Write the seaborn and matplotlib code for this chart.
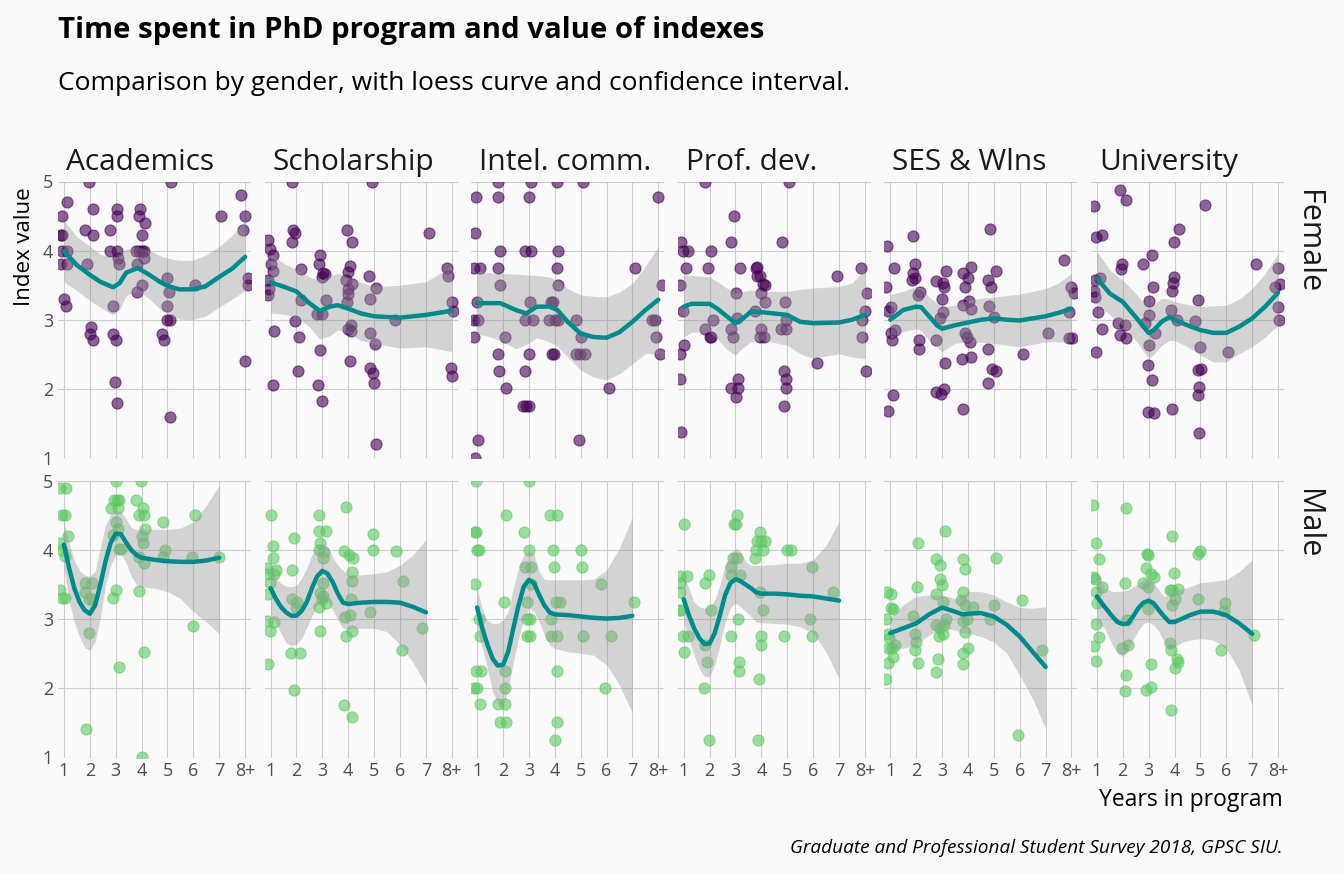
import numpy as np
import pandas as pd
import matplotlib
matplotlib.use("Agg")
import matplotlib.pyplot as plt
import seaborn as sns

# ====================================
# DATA
# ====================================
index_names = ["Academics", "Scholarship", "Intel. comm.", "Prof. dev.", "SES & Wlns", "University"]
genders = ["Female", "Male"]
year_ticks = [1, 2, 3, 4, 5, 6, 7, 8]
year_labels = ["1", "2", "3", "4", "5", "6", "7", "8+"]

# jittered survey answers: (years in program, index value)
acad_f = [(1.97, 5.0), (1.10, 4.71), (0.92, 4.5), (0.92, 4.22), (0.88, 4.22), (0.92, 4.0), (1.10, 4.0),
          (0.88, 3.8), (1.10, 3.8), (1.00, 3.3), (1.08, 3.2), (1.80, 4.3), (2.12, 4.22), (2.13, 4.6),
          (1.90, 3.8), (2.06, 2.9), (2.00, 2.8), (2.12, 2.7), (2.78, 4.3), (2.78, 4.0), (3.06, 4.0),
          (3.06, 4.6), (3.06, 4.5), (3.08, 3.9), (3.14, 3.8), (2.90, 3.2), (2.90, 2.8), (3.00, 2.7),
          (2.97, 2.1), (3.05, 1.8), (3.93, 4.6), (3.91, 4.5), (4.14, 4.4), (4.00, 4.22), (3.78, 4.0),
          (4.00, 4.0), (4.11, 4.0), (3.90, 4.0), (4.11, 3.9), (3.83, 3.8), (4.03, 3.5), (3.83, 3.4),
          (5.14, 5.0), (4.98, 3.6), (5.06, 3.4), (4.98, 3.2), (4.98, 3.0), (5.08, 3.0), (4.78, 2.8),
          (4.86, 2.7), (5.08, 1.6), (6.06, 3.5), (7.08, 4.5), (7.85, 4.8), (8.00, 4.5), (7.90, 4.3),
          (8.10, 3.6), (8.10, 3.5), (8.00, 2.4)]
schol_f = [(1.84, 5.0), (4.91, 5.0), (0.92, 4.16), (0.97, 4.03), (1.10, 3.94), (1.03, 3.81), (1.08, 3.71),
           (0.92, 3.57), (0.95, 3.45), (0.90, 3.36), (1.15, 2.84), (1.08, 2.05), (1.86, 4.30), (1.94, 4.26),
           (1.84, 4.13), (2.17, 3.74), (2.17, 3.28), (1.94, 2.98), (2.09, 2.75), (2.05, 2.26), (2.93, 3.94),
           (2.86, 3.81), (3.03, 3.68), (3.11, 3.66), (3.00, 3.62), (3.16, 3.28), (2.78, 3.08), (3.00, 3.09),
           (2.93, 2.56), (2.83, 2.05), (3.00, 1.83), (3.95, 4.30), (4.15, 4.13), (4.08, 3.78), (4.00, 3.69),
           (3.92, 3.57), (4.13, 3.51), (4.00, 3.45), (4.00, 3.37), (3.95, 3.25), (4.10, 2.92), (4.00, 2.87),
           (4.10, 2.84), (4.08, 2.41), (4.79, 3.64), (5.07, 3.46), (4.84, 3.30), (4.84, 2.81), (5.04, 2.65),
           (4.86, 2.30), (4.94, 2.23), (4.99, 2.09), (5.09, 1.20), (5.80, 3.00), (7.12, 4.26), (7.81, 3.75),
           (7.86, 3.63), (8.01, 3.26), (8.06, 3.12), (7.96, 2.30), (8.01, 2.18)]
intel_f = [(1.82, 5.0), (3.09, 5.0), (4.09, 5.0), (5.09, 5.0), (0.95, 4.77), (1.82, 4.77), (3.02, 4.77),
           (8.00, 4.77), (0.90, 4.26), (1.87, 4.0), (2.84, 4.0), (3.09, 4.0), (4.14, 4.0), (0.87, 3.75),
           (1.10, 3.75), (1.82, 3.75), (4.09, 3.75), (7.10, 3.75), (1.87, 3.5), (4.14, 3.5), (8.13, 3.5),
           (1.00, 3.25), (3.04, 3.25), (3.84, 3.25), (3.94, 3.25), (0.87, 3.0), (1.05, 3.0), (2.86, 3.0),
           (3.17, 3.0), (3.76, 3.0), (3.99, 3.0), (4.12, 3.0), (4.83, 3.0), (7.77, 3.0), (7.87, 3.0),
           (0.87, 2.75), (2.07, 2.75), (5.01, 2.75), (7.92, 2.75), (1.82, 2.5), (2.99, 2.5), (3.91, 2.5),
           (3.96, 2.5), (4.81, 2.5), (4.96, 2.5), (5.16, 2.5), (8.05, 2.5), (1.84, 2.26), (2.86, 2.26),
           (2.10, 2.01), (6.11, 2.01), (2.79, 1.75), (2.89, 1.75), (2.99, 1.75), (1.03, 1.26), (4.93, 1.26),
           (0.90, 1.0)]
prof_f = [(1.84, 5.0), (5.05, 5.0), (2.96, 4.5), (0.90, 4.13), (0.97, 4.0), (1.15, 4.0), (2.04, 4.0),
          (2.81, 4.13), (4.79, 4.13), (1.08, 3.75), (1.94, 3.75), (3.16, 3.75), (3.80, 3.75), (3.82, 3.76),
          (3.85, 3.64), (3.95, 3.63), (4.05, 3.52), (4.13, 3.5), (6.93, 3.64), (7.84, 3.75), (0.87, 3.5),
          (8.07, 3.38), (3.01, 3.38), (4.00, 3.38), (4.13, 3.25), (4.92, 3.25), (0.97, 3.12), (3.77, 3.12),
          (8.00, 3.12), (2.15, 3.0), (3.06, 3.03), (4.94, 3.0), (7.90, 3.0), (1.81, 2.87), (2.81, 2.87),
          (4.00, 2.87), (4.77, 2.87), (4.94, 2.87), (2.04, 2.75), (2.03, 2.75), (2.91, 2.75), (3.93, 2.75),
          (4.10, 2.75), (7.90, 2.75), (1.00, 2.63), (0.87, 2.51), (6.14, 2.38), (4.89, 2.26), (4.94, 2.14),
          (4.97, 2.01), (4.89, 1.75), (8.05, 2.26), (3.11, 2.14), (2.83, 2.01), (3.09, 2.01), (3.01, 1.88),
          (0.87, 2.14), (0.90, 1.37)]
ses_f = [(4.87, 4.31), (1.89, 4.21), (0.87, 4.06), (1.13, 3.75), (1.97, 3.81), (1.89, 3.68), (1.84, 3.57),
         (1.94, 3.61), (0.82, 3.48), (7.72, 3.86), (3.14, 3.70), (2.76, 3.56), (3.04, 3.53), (3.09, 3.48),
         (3.82, 3.68), (4.10, 3.76), (4.00, 3.61), (3.88, 3.48), (4.79, 3.58), (5.10, 3.70), (4.89, 3.48),
         (8.00, 3.48), (8.10, 3.38), (2.07, 3.36), (2.15, 3.40), (3.01, 3.30), (4.05, 3.27), (3.80, 3.21),
         (4.13, 3.16), (4.82, 3.20), (1.03, 3.19), (0.92, 3.13), (3.04, 3.11), (2.91, 3.03), (5.02, 3.04),
         (7.90, 3.11), (1.03, 2.81), (1.18, 2.85), (1.05, 2.70), (2.12, 2.70), (2.12, 2.58), (2.78, 2.70),
         (3.88, 2.81), (3.98, 2.75), (4.08, 2.68), (7.08, 2.81), (7.92, 2.74), (8.02, 2.74), (4.79, 2.58),
         (4.10, 2.46), (3.77, 2.43), (3.11, 2.38), (6.11, 2.51), (4.92, 2.29), (5.10, 2.26), (4.77, 2.09),
         (2.78, 1.96), (2.96, 1.93), (3.06, 2.00), (1.10, 1.91), (0.90, 1.68), (3.82, 1.71)]
univ_f = [(1.89, 4.88), (2.14, 4.73), (5.17, 4.66), (0.90, 4.64), (0.97, 4.19), (1.18, 4.22), (4.18, 4.31),
          (3.97, 4.12), (3.13, 3.93), (2.80, 3.80), (1.97, 3.80), (1.94, 3.74), (7.15, 3.80), (7.99, 3.75),
          (0.92, 3.57), (1.13, 3.61), (3.97, 3.62), (3.95, 3.53), (3.90, 3.41), (3.16, 3.47), (0.90, 3.42),
          (0.92, 3.33), (8.09, 3.52), (7.89, 3.48), (3.01, 3.27), (4.89, 3.28), (1.03, 3.11), (8.00, 3.18),
          (8.03, 2.99), (3.03, 3.07), (3.85, 3.14), (4.10, 3.00), (1.81, 2.95), (2.07, 2.92), (2.86, 2.96),
          (4.81, 2.98), (1.20, 2.86), (1.89, 2.78), (2.14, 2.73), (3.24, 2.81), (3.03, 2.63), (4.99, 2.60),
          (6.08, 2.54), (0.97, 2.54), (2.98, 2.34), (3.13, 2.13), (4.91, 2.28), (5.02, 2.29), (4.94, 2.03),
          (4.91, 1.91), (2.96, 1.67), (3.19, 1.65), (3.90, 1.71), (4.96, 1.36)]

acad_m = [(0.85, 4.9), (1.08, 4.9), (0.92, 4.51), (1.03, 4.51), (1.15, 4.21), (0.85, 4.11), (0.92, 4.0),
          (1.03, 3.92), (0.85, 3.42), (0.92, 3.31), (1.03, 3.31), (1.82, 3.52), (2.10, 3.52), (1.82, 3.40),
          (1.95, 3.30), (2.07, 3.30), (1.95, 2.80), (1.84, 1.41), (3.00, 5.0), (2.81, 4.61), (2.94, 4.72),
          (3.04, 4.72), (3.14, 4.72), (3.09, 4.61), (3.02, 4.41), (3.09, 4.31), (2.90, 4.22), (3.12, 4.01),
          (3.20, 4.01), (2.90, 3.31), (3.02, 3.42), (3.12, 2.31), (3.96, 5.0), (3.78, 4.72), (4.04, 4.61),
          (3.91, 4.51), (4.09, 4.51), (4.12, 4.31), (4.01, 4.21), (4.07, 4.10), (3.89, 3.90), (4.09, 3.81),
          (3.91, 3.41), (4.09, 2.52), (4.01, 1.01), (4.81, 4.41), (4.91, 4.00), (4.81, 3.90), (6.06, 4.51),
          (5.93, 3.90), (6.00, 2.90), (6.98, 3.90)]
schol_m = [(1.00, 4.51), (1.10, 4.06), (1.08, 3.89), (0.87, 3.74), (0.92, 3.66), (1.20, 3.71), (1.15, 3.66),
           (0.97, 3.52), (0.90, 3.36), (0.85, 2.98), (1.15, 2.96), (0.97, 2.83), (0.92, 2.35), (1.89, 4.18),
           (1.84, 3.71), (1.84, 3.29), (2.04, 3.25), (1.97, 3.16), (1.81, 2.51), (2.14, 2.51), (1.91, 1.97),
           (2.86, 4.51), (2.88, 4.27), (3.16, 4.28), (2.91, 4.11), (2.86, 4.0), (3.06, 3.98), (3.01, 3.89),
           (3.03, 3.53), (2.93, 3.38), (3.01, 3.33), (2.98, 3.29), (3.16, 3.24), (2.86, 3.18), (2.91, 2.83),
           (3.92, 4.63), (3.85, 3.99), (4.03, 3.93), (4.18, 3.89), (4.13, 3.69), (4.15, 3.55), (4.10, 3.29),
           (4.08, 3.06), (3.87, 3.03), (4.13, 2.83), (3.90, 2.76), (3.82, 1.76), (4.15, 1.59), (4.94, 4.24),
           (4.96, 4.0), (4.84, 3.11), (5.85, 3.99), (6.13, 3.56), (6.06, 2.56), (6.85, 2.87)]
intel_m = [(0.95, 5.0), (3.02, 5.0), (2.10, 4.51), (3.81, 4.51), (4.07, 4.51), (0.90, 4.26), (0.95, 4.26),
           (2.81, 4.26), (1.00, 4.0), (1.08, 4.0), (3.02, 4.0), (3.94, 4.0), (5.01, 4.0), (2.86, 3.76),
           (3.09, 3.76), (3.96, 3.76), (5.04, 3.76), (0.92, 3.51), (3.09, 3.51), (5.78, 3.51), (2.05, 3.25),
           (2.94, 3.25), (4.04, 3.25), (4.19, 3.25), (7.05, 3.25), (1.08, 3.01), (2.94, 3.01), (3.04, 3.01),
           (3.86, 3.01), (1.10, 2.76), (2.94, 2.76), (3.04, 2.76), (3.86, 2.76), (4.09, 2.76), (5.09, 2.76),
           (6.16, 2.76), (0.95, 2.25), (1.15, 2.25), (2.07, 2.25), (4.09, 2.25), (0.87, 2.01), (1.00, 2.01),
           (2.07, 2.01), (5.93, 2.01), (1.10, 1.77), (1.79, 1.77), (2.07, 1.77), (1.87, 1.52), (2.10, 1.52),
           (4.07, 1.52), (3.99, 1.25)]
prof_m = [(1.00, 4.38), (3.06, 4.51), (2.93, 4.38), (3.01, 4.38), (3.93, 4.26), (3.82, 4.13), (3.98, 4.13),
          (4.16, 4.13), (3.80, 4.0), (4.05, 4.0), (5.00, 4.0), (5.15, 4.0), (3.77, 3.88), (2.91, 3.89),
          (3.06, 3.88), (2.81, 3.76), (5.96, 3.76), (0.87, 3.63), (1.13, 3.63), (1.97, 3.64), (0.87, 3.52),
          (1.81, 3.52), (0.87, 3.40), (2.83, 3.64), (3.16, 3.64), (3.93, 3.40), (6.75, 3.40), (0.87, 3.13),
          (0.85, 3.13), (2.07, 3.13), (4.05, 3.13), (3.11, 3.01), (5.89, 3.01), (0.97, 2.76), (1.18, 2.76),
          (2.81, 2.76), (3.98, 2.76), (4.89, 2.76), (5.94, 2.76), (1.81, 2.63), (3.98, 2.63), (1.00, 2.52),
          (1.89, 2.38), (3.14, 2.38), (3.14, 2.25), (3.90, 2.13), (1.79, 2.01), (1.97, 1.25), (3.88, 1.25)]
ses_m = [(3.11, 4.27), (2.07, 4.11), (2.78, 3.87), (2.93, 3.79), (3.82, 3.87), (3.88, 3.73), (5.07, 3.89),
         (2.91, 3.58), (2.98, 3.49), (2.04, 3.46), (0.87, 3.40), (1.03, 3.36), (3.82, 3.39), (2.78, 3.36),
         (6.09, 3.28), (5.02, 3.21), (1.03, 3.16), (1.10, 3.15), (1.89, 3.04), (3.04, 3.25), (3.75, 3.28),
         (3.88, 3.21), (4.18, 3.17), (0.85, 3.00), (3.80, 2.98), (3.95, 3.01), (4.84, 3.01), (3.14, 3.01),
         (2.75, 2.91), (2.93, 2.88), (3.06, 2.92), (2.88, 2.76), (3.04, 2.78), (0.92, 2.78), (0.97, 2.73),
         (1.18, 2.63), (1.94, 2.78), (1.99, 2.67), (3.88, 2.81), (0.90, 2.58), (1.08, 2.58), (1.10, 2.46),
         (1.97, 2.56), (4.00, 2.59), (3.82, 2.51), (6.85, 2.56), (0.92, 2.36), (2.07, 2.36), (3.80, 2.35),
         (2.78, 2.24), (2.86, 2.43), (0.82, 2.14), (5.94, 1.32)]
univ_m = [(0.87, 4.66), (2.14, 4.61), (0.95, 4.11), (3.90, 4.21), (1.08, 3.87), (2.96, 3.93), (2.93, 3.94),
          (4.89, 3.94), (4.99, 3.99), (2.88, 3.74), (3.08, 3.66), (3.21, 3.61), (3.97, 3.67), (0.87, 3.61),
          (0.92, 3.58), (2.09, 3.53), (2.80, 3.52), (2.98, 3.47), (1.20, 3.47), (0.95, 3.40), (3.82, 3.42),
          (3.92, 3.42), (4.15, 3.44), (4.02, 3.29), (4.89, 3.29), (5.96, 3.24), (1.00, 3.24), (2.96, 3.15),
          (3.90, 3.20), (2.17, 2.99), (5.90, 3.12), (0.95, 2.93), (1.08, 2.75), (0.90, 2.62), (1.99, 2.59),
          (2.22, 2.63), (3.82, 2.66), (3.87, 2.56), (5.80, 2.56), (7.07, 2.77), (4.08, 2.42), (4.13, 2.38),
          (4.02, 2.29), (0.95, 2.40), (3.08, 2.35), (2.14, 2.19), (2.09, 1.96), (2.88, 1.97), (3.08, 2.02),
          (3.85, 1.69)]

# loess curves: x grid, fitted value, lower and upper confidence limit
acad_f_x = [1, 1.5, 2, 2.4, 2.9, 3.15, 3.4, 3.85, 4.3, 4.7, 5, 5.45, 5.95, 6.45, 7, 7.5, 8]
acad_f_fit = [3.99, 3.79, 3.65, 3.55, 3.47, 3.53, 3.68, 3.75, 3.65, 3.55, 3.49, 3.44, 3.44, 3.48, 3.62, 3.74, 3.91]
acad_f_hi = [4.44, 4.2, 4.06, 3.95, 3.89, 3.95, 4.02, 4.06, 4.0, 3.93, 3.89, 3.86, 3.86, 3.93, 4.06, 4.22, 4.44]
acad_f_lo = [3.55, 3.42, 3.28, 3.18, 3.07, 3.15, 3.35, 3.42, 3.3, 3.16, 3.09, 3.01, 3.0, 3.05, 3.18, 3.3, 3.42]

schol_f_x = [1, 1.5, 2, 2.5, 2.9, 3.3, 3.6, 4, 4.5, 5, 6, 7, 8]
schol_f_fit = [3.54, 3.48, 3.41, 3.24, 3.13, 3.19, 3.21, 3.16, 3.09, 3.05, 3.03, 3.07, 3.13]
schol_f_hi = [3.94, 3.82, 3.72, 3.62, 3.57, 3.64, 3.67, 3.62, 3.54, 3.48, 3.5, 3.55, 3.77]
schol_f_lo = [3.1, 3.08, 3.04, 2.9, 2.72, 2.77, 2.85, 2.8, 2.7, 2.66, 2.59, 2.61, 2.54]

intel_f_x = [1, 1.5, 1.9, 2.5, 2.9, 3.3, 3.8, 4.1, 4.5, 5, 5.5, 6, 6.5, 7, 7.5, 8]
intel_f_fit = [3.24, 3.24, 3.24, 3.14, 3.09, 3.19, 3.19, 3.14, 2.97, 2.8, 2.75, 2.74, 2.82, 2.97, 3.14, 3.29]
intel_f_hi = [3.7, 3.68, 3.67, 3.66, 3.65, 3.64, 3.62, 3.56, 3.45, 3.36, 3.34, 3.33, 3.4, 3.53, 3.77, 4.06]
intel_f_lo = [2.8, 2.75, 2.7, 2.58, 2.64, 2.74, 2.68, 2.62, 2.46, 2.27, 2.17, 2.13, 2.22, 2.36, 2.51, 2.51]

prof_f_x = [1, 1.3, 2, 2.3, 2.7, 3, 3.3, 3.6, 4, 5, 5.5, 6, 7, 7.5, 8]
prof_f_fit = [3.19, 3.23, 3.23, 3.16, 3.04, 2.95, 3.02, 3.12, 3.11, 3.07, 2.97, 2.95, 2.96, 3.0, 3.07]
prof_f_hi = [3.65, 3.64, 3.62, 3.55, 3.45, 3.38, 3.41, 3.43, 3.41, 3.41, 3.44, 3.46, 3.48, 3.53, 3.72]
prof_f_lo = [2.75, 2.82, 2.82, 2.72, 2.56, 2.49, 2.6, 2.68, 2.71, 2.63, 2.51, 2.44, 2.51, 2.46, 2.44]

ses_f_x = [1, 1.5, 2, 2.2, 2.5, 2.8, 3, 3.5, 4, 4.5, 5, 5.5, 6, 7, 7.5, 8]
ses_f_fit = [3.0, 3.14, 3.19, 3.18, 3.05, 2.92, 2.87, 2.92, 2.96, 3.0, 3.02, 3.0, 2.99, 3.05, 3.1, 3.16]
ses_f_hi = [3.37, 3.41, 3.48, 3.46, 3.33, 3.24, 3.19, 3.21, 3.28, 3.31, 3.33, 3.35, 3.37, 3.45, 3.53, 3.67]
ses_f_lo = [2.73, 2.83, 2.87, 2.84, 2.7, 2.6, 2.54, 2.66, 2.68, 2.67, 2.66, 2.63, 2.61, 2.68, 2.68, 2.68]

univ_f_x = [1, 1.5, 2, 2.5, 3, 3.2, 3.5, 3.8, 4, 4.5, 5, 5.5, 6, 6.5, 7, 7.5, 8]
univ_f_fit = [3.6, 3.38, 3.26, 3.04, 2.81, 2.85, 2.97, 3.04, 3.0, 2.92, 2.85, 2.81, 2.81, 2.9, 3.02, 3.19, 3.39]
univ_f_hi = [3.99, 3.72, 3.57, 3.38, 3.16, 3.22, 3.31, 3.3, 3.26, 3.22, 3.19, 3.2, 3.21, 3.3, 3.45, 3.67, 3.96]
univ_f_lo = [3.24, 3.07, 2.92, 2.7, 2.44, 2.5, 2.63, 2.7, 2.7, 2.61, 2.49, 2.39, 2.39, 2.51, 2.61, 2.75, 2.92]

male_x = [1, 1.2, 1.4, 1.6, 1.8, 2, 2.2, 2.4, 2.6, 2.8, 3, 3.2, 3.4, 3.6, 3.8, 4, 4.5, 5, 5.5, 6, 6.5, 7]
acad_m_fit = [4.08, 3.74, 3.45, 3.25, 3.13, 3.08, 3.2, 3.49, 3.83, 4.1, 4.24, 4.23, 4.11, 4.0, 3.93, 3.89,
              3.86, 3.84, 3.83, 3.83, 3.85, 3.89]
acad_m_hi = [4.42, 4.1, 3.85, 3.7, 3.64, 3.62, 3.69, 4.03, 4.36, 4.51, 4.57, 4.56, 4.45, 4.33, 4.3, 4.31,
             4.3, 4.3, 4.32, 4.41, 4.65, 4.94]
acad_m_lo = [3.74, 3.25, 2.96, 2.75, 2.59, 2.55, 2.67, 3.01, 3.49, 3.78, 3.93, 3.95, 3.82, 3.62, 3.5, 3.47,
             3.45, 3.4, 3.3, 3.11, 2.96, 2.79]

schol_m_fit = [3.45, 3.3, 3.18, 3.1, 3.05, 3.05, 3.12, 3.25, 3.45, 3.62, 3.7, 3.66, 3.54, 3.37, 3.24, 3.22,
               3.24, 3.25, 3.25, 3.24, 3.18, 3.1]
schol_m_hi = [3.83, 3.6, 3.52, 3.48, 3.47, 3.49, 3.59, 3.74, 3.93, 4.05, 4.1, 4.05, 3.9, 3.78, 3.71, 3.64,
              3.64, 3.66, 3.69, 3.78, 3.93, 4.15]
schol_m_lo = [3.06, 2.96, 2.8, 2.66, 2.62, 2.64, 2.72, 2.88, 3.05, 3.2, 3.3, 3.26, 3.13, 2.99, 2.87, 2.86,
              2.87, 2.87, 2.82, 2.63, 2.38, 2.05]

intel_m_fit = [3.17, 2.87, 2.63, 2.43, 2.33, 2.34, 2.53, 2.87, 3.2, 3.47, 3.57, 3.52, 3.35, 3.2, 3.1, 3.07,
               3.06, 3.04, 3.02, 3.01, 3.02, 3.05]
intel_m_hi = [3.45, 3.15, 2.98, 2.94, 2.94, 2.99, 3.11, 3.45, 3.74, 3.93, 4.0, 3.93, 3.69, 3.58, 3.57, 3.57,
              3.57, 3.57, 3.58, 3.71, 4.03, 4.48]
intel_m_lo = [2.87, 2.58, 2.29, 1.95, 1.78, 1.73, 2.0, 2.38, 2.72, 3.01, 3.16, 3.11, 2.96, 2.77, 2.63, 2.58,
              2.53, 2.51, 2.48, 2.34, 2.05, 1.64]

prof_m_fit = [3.29, 3.06, 2.87, 2.73, 2.64, 2.65, 2.8, 3.06, 3.35, 3.52, 3.58, 3.55, 3.5, 3.45, 3.39, 3.37,
              3.37, 3.36, 3.34, 3.33, 3.3, 3.27]
prof_m_hi = [3.64, 3.45, 3.25, 3.18, 3.16, 3.18, 3.28, 3.49, 3.78, 3.95, 4.03, 3.98, 3.83, 3.78, 3.78, 3.78,
             3.79, 3.81, 3.81, 3.86, 4.07, 4.41]
prof_m_lo = [2.96, 2.72, 2.48, 2.29, 2.17, 2.17, 2.34, 2.63, 2.96, 3.16, 3.23, 3.18, 3.11, 3.04, 2.96, 2.95,
             2.94, 2.93, 2.89, 2.8, 2.53, 2.14]

ses_m_x = [1, 1.5, 2, 2.5, 3, 3.5, 3.8, 4, 4.5, 5, 5.5, 6, 6.5, 7]
ses_m_fit = [2.8, 2.87, 2.94, 3.07, 3.17, 3.11, 3.07, 3.08, 3.09, 3.04, 2.92, 2.75, 2.53, 2.31]
ses_m_hi = [3.02, 3.21, 3.33, 3.35, 3.35, 3.3, 3.35, 3.4, 3.4, 3.35, 3.25, 3.17, 3.16, 3.18]
ses_m_lo = [2.59, 2.58, 2.63, 2.77, 2.89, 2.84, 2.8, 2.8, 2.75, 2.67, 2.51, 2.19, 1.85, 1.42]

univ_m_x = [1, 1.3, 1.6, 1.8, 2, 2.2, 2.4, 2.6, 2.8, 3, 3.2, 3.4, 3.6, 3.8, 4, 4.3, 4.6, 5, 5.5, 6, 6.5, 7]
univ_m_fit = [3.33, 3.18, 3.04, 2.96, 2.93, 2.94, 3.04, 3.16, 3.24, 3.27, 3.23, 3.13, 3.04, 2.96, 2.96, 3.01,
              3.06, 3.11, 3.11, 3.06, 2.94, 2.79]
univ_m_hi = [3.71, 3.45, 3.4, 3.4, 3.41, 3.42, 3.47, 3.52, 3.57, 3.59, 3.54, 3.42, 3.33, 3.35, 3.4, 3.44,
             3.47, 3.53, 3.55, 3.57, 3.69, 3.86]
univ_m_lo = [2.96, 2.87, 2.63, 2.51, 2.46, 2.53, 2.7, 2.84, 2.94, 2.96, 2.92, 2.82, 2.67, 2.58, 2.6, 2.67,
             2.7, 2.72, 2.7, 2.58, 2.26, 1.76]


# ====================================
# TIDY TABLES
# ====================================
point_sets = {
    "Female": [acad_f, schol_f, intel_f, prof_f, ses_f, univ_f],
    "Male": [acad_m, schol_m, intel_m, prof_m, ses_m, univ_m],
}
curve_sets = {
    "Female": [(acad_f_x, acad_f_fit, acad_f_lo, acad_f_hi),
               (schol_f_x, schol_f_fit, schol_f_lo, schol_f_hi),
               (intel_f_x, intel_f_fit, intel_f_lo, intel_f_hi),
               (prof_f_x, prof_f_fit, prof_f_lo, prof_f_hi),
               (ses_f_x, ses_f_fit, ses_f_lo, ses_f_hi),
               (univ_f_x, univ_f_fit, univ_f_lo, univ_f_hi)],
    "Male": [(male_x, acad_m_fit, acad_m_lo, acad_m_hi),
             (male_x, schol_m_fit, schol_m_lo, schol_m_hi),
             (male_x, intel_m_fit, intel_m_lo, intel_m_hi),
             (male_x, prof_m_fit, prof_m_lo, prof_m_hi),
             (ses_m_x, ses_m_fit, ses_m_lo, ses_m_hi),
             (univ_m_x, univ_m_fit, univ_m_lo, univ_m_hi)],
}

frames = []
for g in genders:
    for name, pts in zip(index_names, point_sets[g]):
        d = pd.DataFrame(pts, columns=["years", "value"])
        d["index"] = name
        d["gender"] = g
        frames.append(d)
points_df = pd.concat(frames, ignore_index=True)

frames = []
for g in genders:
    for name, (cx, fit, lo, hi) in zip(index_names, curve_sets[g]):
        frames.append(pd.DataFrame({"years": cx, "fit": fit, "lo": lo, "hi": hi,
                                    "index": name, "gender": g}))
curves_df = pd.concat(frames, ignore_index=True)


# ====================================
# PLOT
# ====================================
bg = "#FAFAFA"
point_colors = {"Female": "#440154", "Male": "#5DC863"}
line_color = "#008B8B"

sns.set_style("whitegrid")
plt.rcParams["font.family"] = ["Open Sans", "DejaVu Sans"]

W, H = 1344, 873
fig, axes = plt.subplots(2, 6, figsize=(W / 100, H / 100), dpi=100, sharex=True, sharey=True)
fig.patch.set_facecolor(bg)
fig.subplots_adjust(left=58 / W, right=1284 / W, bottom=1 - 757.5 / H, top=1 - 181.5 / H,
                    wspace=13.5 / 193.5, hspace=23 / 276.5)

for r, g in enumerate(genders):
    for c, name in enumerate(index_names):
        ax = axes[r, c]
        ax.set_facecolor(bg)
        pts = points_df[(points_df["gender"] == g) & (points_df["index"] == name)]
        crv = curves_df[(curves_df["gender"] == g) & (curves_df["index"] == name)]

        sns.scatterplot(data=pts, x="years", y="value", color=point_colors[g],
                        edgecolor=point_colors[g], linewidth=0.8, alpha=0.6, s=64,
                        legend=False, ax=ax, zorder=2)
        ax.fill_between(crv["years"], crv["lo"], crv["hi"], color="#999999",
                        alpha=0.4, linewidth=0, zorder=3)
        sns.lineplot(data=crv, x="years", y="fit", color=line_color, linewidth=3.2,
                     estimator=None, sort=False, ax=ax, zorder=4)

        ax.set_xlim(0.77, 8.23)
        ax.set_ylim(1, 5)
        ax.set_xticks(year_ticks)
        ax.set_xticklabels(year_labels)
        ax.set_yticks([1, 2, 3, 4, 5])
        ax.set_xlabel("")
        ax.set_ylabel("")
        ax.grid(True, color="#CCCCCC", linewidth=0.8)
        ax.set_axisbelow(True)
        for sp in ax.spines.values():
            sp.set_visible(False)
        ax.tick_params(length=0, labelsize=13, colors="#4D4D4D", pad=3.5)

        if r == 0:
            ax.text(8 / 193, 1 + 11.5 / 276.5, name, transform=ax.transAxes,
                    ha="left", va="baseline", fontsize=21.5, color="#1A1A1A")
        if c == 5:
            ax.text(1 + 9 / 193, 1 - 8 / 276.5, g, transform=ax.transAxes, rotation=-90,
                    ha="left", va="top", fontsize=22, color="#1A1A1A")

fig.text(58 / W, 1 - 38 / H, "Time spent in PhD program and value of indexes",
         ha="left", va="baseline", fontsize=21.2, fontweight="bold", color="black")
fig.text(58 / W, 1 - 90 / H, "Comparison by gender, with loess curve and confidence interval.",
         ha="left", va="baseline", fontsize=19, color="black")
fig.text(14 / W, 1 - 187 / H, "Index value", rotation=90, ha="left", va="top",
         fontsize=16, color="black")
fig.text(1283 / W, 1 - 806.5 / H, "Years in program", ha="right", va="baseline",
         fontsize=16.5, color="black")
fig.text(1283 / W, 1 - 853 / H, "Graduate and Professional Student Survey 2018, GPSC SIU.",
         ha="right", va="baseline", fontsize=13.7, style="italic", color="black")

plt.savefig("out.png", dpi=100, facecolor=bg)
